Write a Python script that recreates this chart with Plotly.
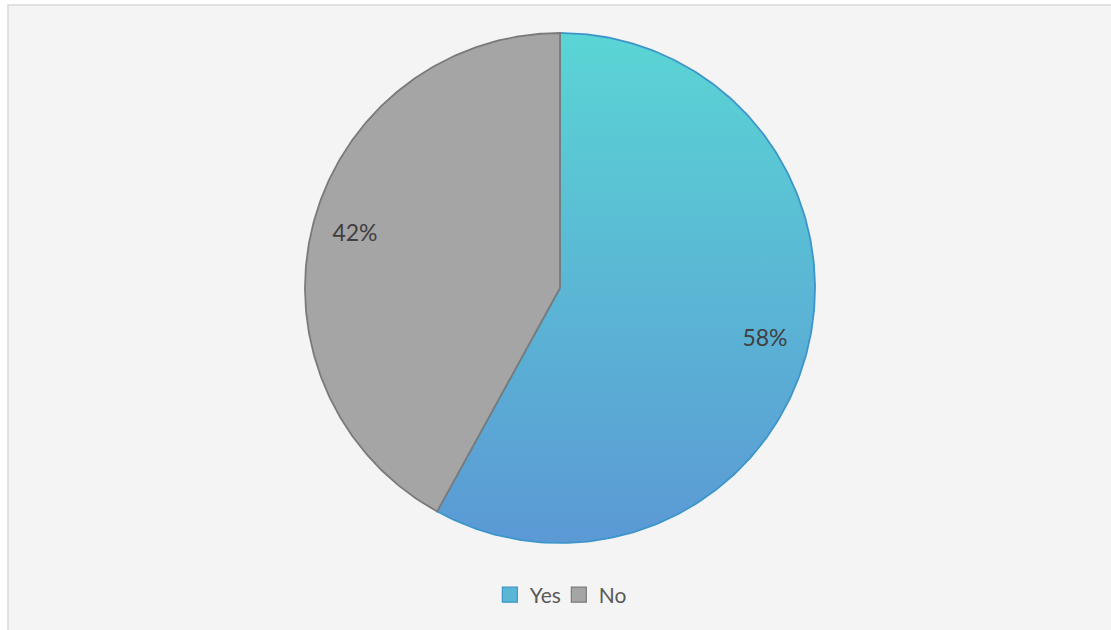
import numpy as np
import plotly.graph_objects as go

# Survey answers (percent)
labels = ["Yes", "No"]
values = [58, 42]

# Styling per slice
grad_top = ["#5AD5D4", None]
grad_bottom = ["#5B99D5", None]
solid_colors = ["#5AB6D5", "#A5A5A5"]
edge_colors = ["#3C95CB", "#7A7A7A"]

W, H = 1111, 630
CX, CY, R = 560, 288, 255  # pie centre and radius in screen pixels

fig = go.Figure()

total = float(sum(values))
start = 0.0
label_x, label_y, label_txt = [], [], []
for i, (lab, val) in enumerate(zip(labels, values)):
    frac = val / total
    a0, a1 = start * 2 * np.pi, (start + frac) * 2 * np.pi
    theta = np.linspace(a0, a1, 240)
    xs = np.concatenate([[CX], CX + R * np.sin(theta), [CX]])
    ys = np.concatenate([[CY], CY - R * np.cos(theta), [CY]])
    kw = dict(
        x=xs, y=ys, mode="lines", fill="toself",
        line=dict(color=edge_colors[i], width=1.8),
        showlegend=False, hoverinfo="skip",
    )
    if grad_top[i]:
        kw["fillgradient"] = dict(
            type="vertical", start=CY - R, stop=CY + R,
            colorscale=[[0, grad_top[i]], [1, grad_bottom[i]]],
        )
    else:
        kw["fillcolor"] = solid_colors[i]
    fig.add_trace(go.Scatter(**kw))

    mid = (start + frac / 2) * 2 * np.pi
    label_x.append(CX + 0.83 * R * np.sin(mid))
    label_y.append(CY - 0.83 * R * np.cos(mid))
    label_txt.append(f"{val:.0f}%")
    start += frac

# Percentage labels
fig.add_trace(go.Scatter(
    x=label_x, y=label_y, mode="text", text=label_txt,
    textfont=dict(family="Lato", size=23, color="#404040"),
    showlegend=False, hoverinfo="skip",
))

# Legend entries
for i, lab in enumerate(labels):
    fig.add_trace(go.Scatter(
        x=[None], y=[None], mode="markers", name=lab,
        marker=dict(symbol="square", size=15, color=solid_colors[i],
                    line=dict(color=edge_colors[i], width=1.2)),
    ))

fig.update_layout(
    width=W, height=H,
    margin=dict(l=0, r=0, t=0, b=0),
    paper_bgcolor="white",
    plot_bgcolor="rgba(0,0,0,0)",
    xaxis=dict(range=[0, W], visible=False, fixedrange=True),
    yaxis=dict(range=[H, 0], visible=False, fixedrange=True),
    showlegend=True,
    legend=dict(
        orientation="h", x=0.503, xanchor="center",
        y=1 - 595 / H, yanchor="middle",
        font=dict(family="Lato", size=21, color="#595959"),
        itemwidth=30, entrywidth=24, entrywidthmode="pixels",
        bgcolor="rgba(0,0,0,0)",
    ),
    shapes=[dict(
        type="rect", xref="paper", yref="paper", layer="below",
        x0=8 / W, y0=1 - 5 / H, x1=1.02, y1=-0.02,
        fillcolor="#F4F4F4", line=dict(color="#D9D9D9", width=1.5),
    )],
)

fig.write_html("out.html")
